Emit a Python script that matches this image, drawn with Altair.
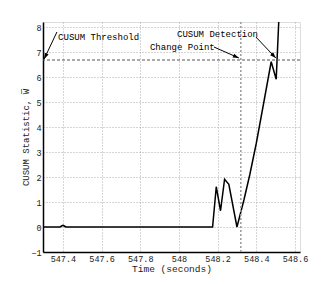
import altair as alt
import pandas as pd

# Curve values
time_s = [547.297, 547.385, 547.393, 547.400, 547.407, 547.415, 548.174, 548.193, 548.215,
          548.236, 548.258, 548.300, 548.336, 548.366, 548.400, 548.438, 548.477, 548.503, 548.520]
cusum_w = [0.0, 0.0, 0.04, 0.07, 0.04, 0.0, 0.0, 1.61, 0.65,
           1.91, 1.71, 0.0, 1.08, 2.08, 3.35, 4.95, 6.61, 5.91, 8.9]

threshold = 6.68
change_point = 548.32

x_ticks = [547.4, 547.6, 547.8, 548.0, 548.2, 548.4, 548.6]
y_ticks = [-1, 0, 1, 2, 3, 4, 5, 6, 7, 8]
x_domain = [547.297, 548.626]
y_domain = [-1, 8.2]

# Annotations: label, text x, text y, arrow start (x, y), arrow tip (x, y), head angle
ann_text = ["CUSUM Threshold", "Change Point", "CUSUM Detection"]
ann_tx = [547.375, 547.85, 547.99]
ann_ty = [7.6, 7.2, 7.72]
ann_x0 = [547.369, 548.181, 548.398]
ann_y0 = [7.8, 7.2, 7.6]
ann_x1 = [547.303, 548.31, 548.501]
ann_y1 = [6.72, 6.76, 6.76]
ann_angle = [205, 114, 136]

FONT = "Liberation Mono"

curve = pd.DataFrame({"t": time_s, "w": cusum_w})
ann = pd.DataFrame({"label": ann_text, "tx": ann_tx, "ty": ann_ty,
                    "x0": ann_x0, "y0": ann_y0, "x1": ann_x1, "y1": ann_y1,
                    "angle": ann_angle})

xs = alt.Scale(domain=x_domain, nice=False, zero=False)
ys = alt.Scale(domain=y_domain, nice=False, zero=False)

x_axis = alt.Axis(values=x_ticks, format="~g", grid=True, gridDash=[1, 2], gridColor="#aaaaaa",
                  tickSize=0, labelPadding=2, labelFont=FONT, labelFontSize=8.5, labelColor="#222",
                  labelOverlap=False,
                  title="Time (seconds)", titleFont=FONT, titleFontSize=9.5, titleFontWeight="normal",
                  titleColor="#222", titleY=19, titleBaseline="alphabetic",
                  domainColor="black", domainWidth=1.5)
y_axis = alt.Axis(values=y_ticks, format="d", grid=True, gridDash=[1, 2], gridColor="#aaaaaa",
                  tickSize=0, labelPadding=2, labelFont=FONT, labelFontSize=8.5, labelColor="#222",
                  labelOverlap=False, labelFlush=False,
                  title="CUSUM Statistic, W\u0305", titleFont=FONT, titleFontSize=9,
                  titleFontWeight="normal", titleColor="#222", titleX=-18, titleY=115,
                  titleBaseline="middle", titleAngle=-90,
                  domainColor="black", domainWidth=1.5)

line = alt.Chart(curve).mark_line(color="black", strokeWidth=1.5, clip=True).encode(
    x=alt.X("t:Q", scale=xs, axis=x_axis),
    y=alt.Y("w:Q", scale=ys, axis=y_axis),
)

thr = alt.Chart(pd.DataFrame({"y": [threshold]})).mark_rule(
    color="#555", strokeDash=[3, 2], strokeWidth=1).encode(y=alt.Y("y:Q", scale=ys, axis=y_axis))

cp = alt.Chart(pd.DataFrame({"x": [change_point]})).mark_rule(
    color="#999", strokeDash=[2, 2], strokeWidth=1.5).encode(x=alt.X("x:Q", scale=xs, axis=x_axis))

arrows = alt.Chart(ann).mark_rule(color="black", strokeWidth=1).encode(
    x=alt.X("x0:Q", scale=xs, axis=x_axis), y=alt.Y("y0:Q", scale=ys, axis=y_axis),
    x2="x1:Q", y2="y1:Q")

heads = alt.Chart(ann).mark_point(
    shape="M0,0 L-0.7,2 L0.7,2 Z", filled=True, color="black", size=36, opacity=1).encode(
    x=alt.X("x1:Q", scale=xs, axis=x_axis), y=alt.Y("y1:Q", scale=ys, axis=y_axis),
    angle=alt.Angle("angle:Q", scale=None))

texts = alt.Chart(ann).mark_text(font=FONT, fontSize=9, align="left", baseline="middle",
                                 color="black").encode(
    x=alt.X("tx:Q", scale=xs, axis=x_axis), y=alt.Y("ty:Q", scale=ys, axis=y_axis),
    text="label:N")

chart = alt.layer(line, cp, thr, arrows, heads, texts).properties(
    width=257, height=230,
    autosize=alt.AutoSizeParams(type="none"),
    padding={"left": 35, "top": 14, "right": 20, "bottom": 32},
).configure_view(stroke="black", strokeWidth=1).configure_axis(
    labelOverlap=False).configure(background="white")

chart.save("out.html", embed_options={"renderer": "svg", "actions": False})
